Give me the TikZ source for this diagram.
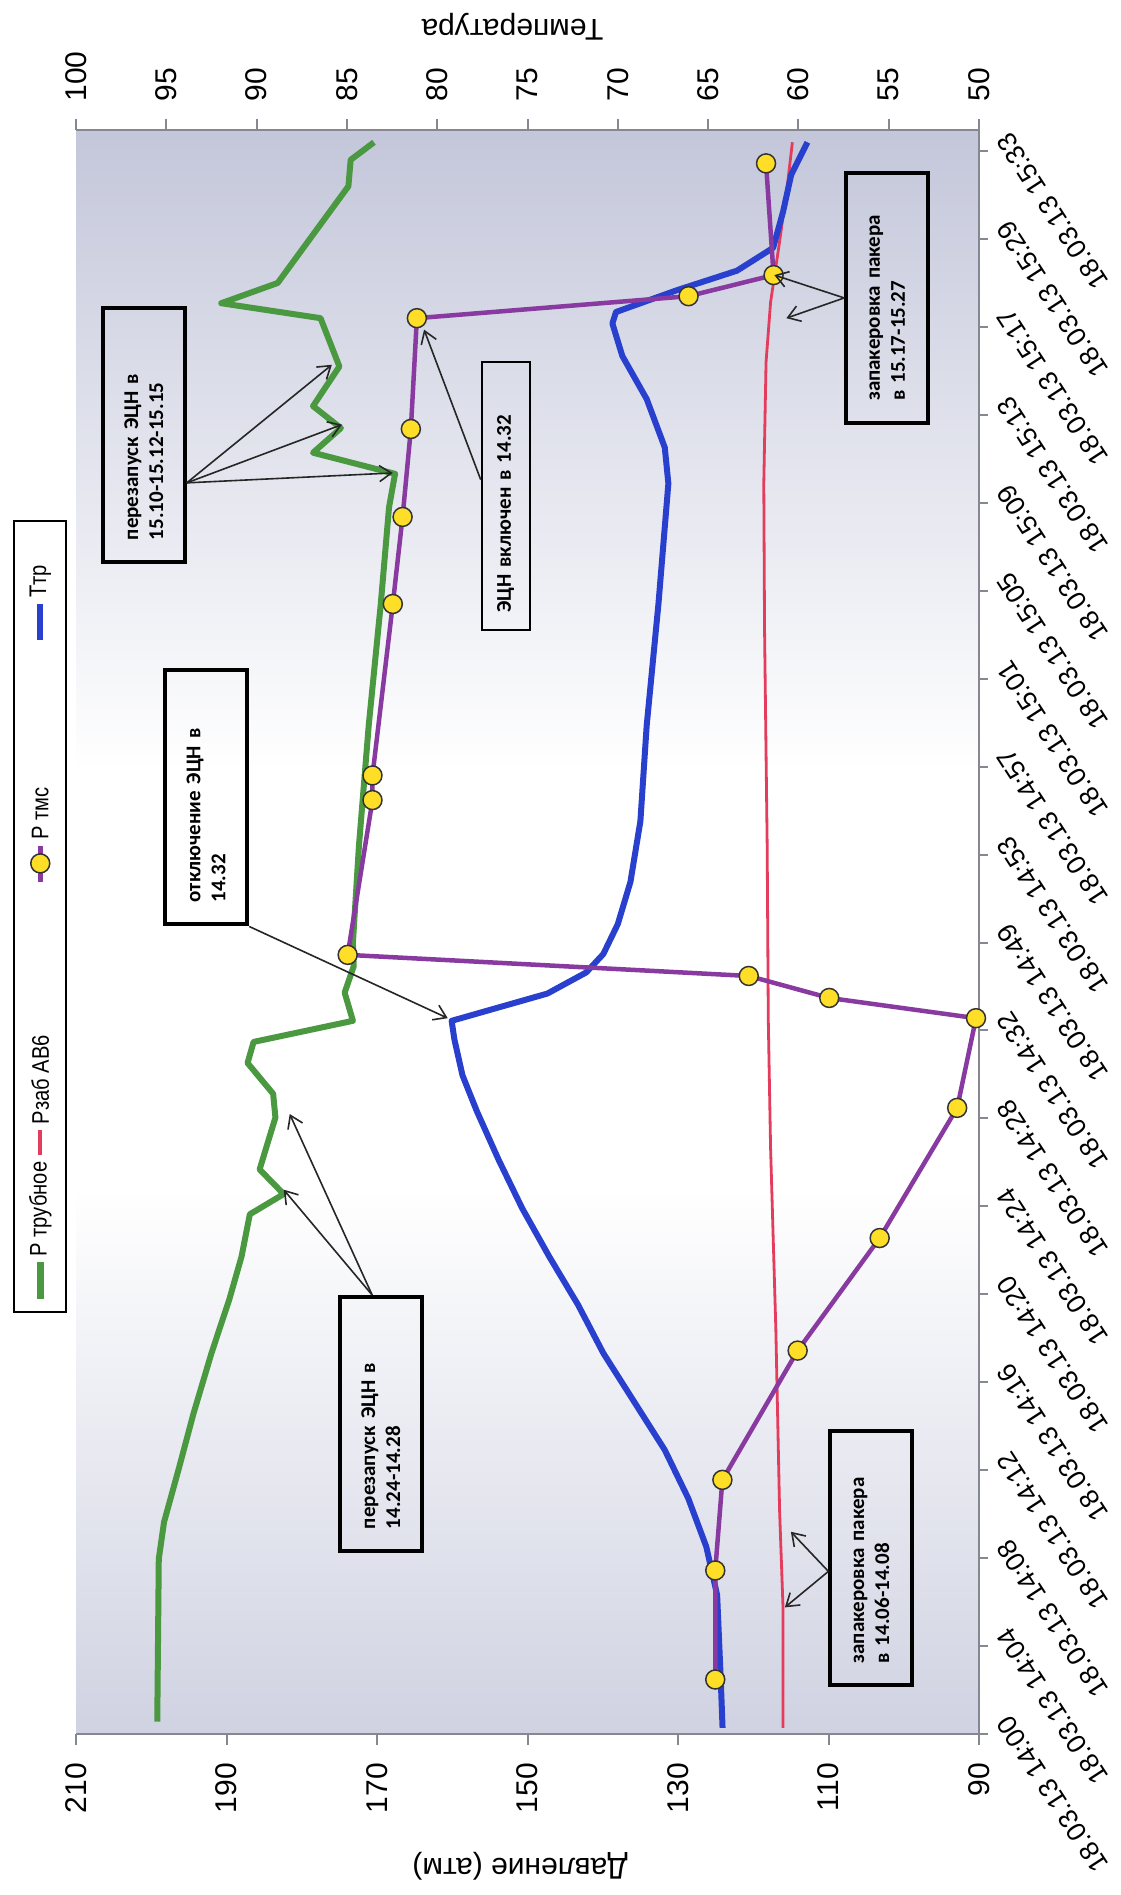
\documentclass[tikz,border=0pt]{standalone}
\usepackage{fontspec}
\setmainfont{Liberation Sans}
\newfontfamily\noteFont{Carlito}
\newfontfamily\legendFont[FakeStretch=0.84]{Liberation Sans}
\usepackage{xcolor}
\usetikzlibrary{arrows.meta, calc, positioning}
\definecolor{trubGreen}{RGB}{74,152,64}
\definecolor{zabRed}{RGB}{228,60,92}
\definecolor{tmsPurple}{RGB}{136,58,160}
\definecolor{ttrBlue}{RGB}{40,64,205}
\definecolor{markYellow}{RGB}{255,222,40}
\definecolor{plotGray}{RGB}{160,165,196}
\definecolor{axisGray}{RGB}{135,135,145}
\pgfdeclareverticalshading{plotShade}{100bp}{color(0bp)=(plotGray); color(15bp)=(plotGray!80!white); color(30bp)=(plotGray!35!white); color(42bp)=(white); color(55bp)=(white); color(68bp)=(plotGray!40!white); color(82bp)=(plotGray!85!white); color(100bp)=(plotGray)}
\tikzstyle{tickLabel} = [inner sep=0pt, font=\fontsize{30}{34}\selectfont]
\tikzstyle{timeLabel} = [inner sep=0pt, rotate=33, anchor=north east, font=\fontsize{27}{30}\selectfont]
\tikzstyle{noteBox} = [draw, line width=4pt, inner xsep=22pt, inner ysep=0pt, minimum height=82pt, text width=210pt, align=left, font=\noteFont\bfseries\fontsize{21}{25}\selectfont]
\tikzstyle{noteArrow} = [-{Straight Barb[length=12pt, width=16pt]}, line width=1.6pt, black!85]
\tikzstyle{legendText} = [anchor=west, inner sep=0pt, font=\legendFont\fontsize{24}{26}\selectfont]
\tikzstyle{tmsMark} = [circle, draw=black!80, line width=1.5pt, fill=markYellow, minimum size=19pt, inner sep=0pt]

\begin{document}
\begin{tikzpicture}[x=1pt, y=1pt]
    \useasboundingbox (0,-1895) rectangle (1121,0);
    \begin{scope}[shift={(979,-1734)}, rotate=90, transform shape, x=87.94pt, y=7.525pt, shift={(0,-90)}]
        % Plot area
        \shade [shading=plotShade] (0,90) rectangle (18.24,210);
        \draw [axisGray, line width=2pt] (0,210) -- (0,90) -- (18.24,90) -- (18.24,210);

        % Axes
        \foreach \p in {90,110,...,210} {
            \draw [axisGray, line width=2pt] (0,\p) -- (-0.12,\p);
            \node [tickLabel, anchor=east] (pl\p) at (-0.33,\p) {\p};
        }
        \foreach \tmp [count=\k from 0] in {50,55,...,100} {
            \draw [axisGray, line width=2pt] (18.24,90+2*\k*6) -- (18.36,90+2*\k*6);
            \node [tickLabel, anchor=west] (tl\tmp) at (18.56,90+2*\k*6) {\tmp};
        }
        \foreach \tm [count=\i from 0] in {14:00,14:04,14:08,14:12,14:16,14:20,14:24,14:28,14:32,14:49,14:53,14:57,15:01,15:05,15:09,15:13,15:17,15:29,15:33} {
            \draw [axisGray, line width=2pt] (\i,90) -- (\i,88.8);
            \node [timeLabel] (dl\i) at ([xshift=10pt, yshift=-16pt]\i,90) {18.03.13 \tm};
        }
        \node [tickLabel, rotate=90] (pTitle) at (-1.5,151) {Давление (атм)};
        \node [tickLabel, rotate=90] (tTitle) at (19.41,152) {Температура};

        % Legend
        \node [draw, fill=white, line width=2pt, minimum width=791pt, minimum height=52pt] (legend) at (9.3,214.75) {};
        \draw [trubGreen, line width=7pt] (4.95,214.75) -- (5.37,214.75);
        \node [legendText] (lgTrub) at (5.43,214.75) {Р трубное};
        \draw [zabRed, line width=4pt] (6.58,214.75) -- (6.87,214.75);
        \node [legendText] (lgZab) at (6.93,214.75) {Рзаб АВ6};
        \draw [tmsPurple, line width=5pt] (9.69,214.75) -- (10.1,214.75);
        \node [tmsMark] (lgMark) at (9.9,214.75) {};
        \node [legendText] (lgTms) at (10.17,214.75) {Р тмс};
        \draw [ttrBlue, line width=6pt] (12.44,214.75) -- (12.85,214.75);
        \node [legendText] (lgTtr) at (12.92,214.75) {Ттр};

        % Lines
        \draw [zabRed, line width=2.8pt, line join=round] plot coordinates {(0.07,116.05) (1.45,116.05) (2.54,116.5) (4.61,117.0) (6.67,117.7) (8.11,118.0) (10.1,118.15) (12.57,118.5) (14.22,118.6) (15.6,118.3) (16.28,117.7) (16.97,116.5) (17.66,115.4) (18.10,114.8)};
        \draw [trubGreen, line width=6pt, line join=round] plot coordinates {(0.14,199.2) (1.99,199) (2.41,198.3) (3.03,196.3) (3.64,194.4) (4.33,192.0) (4.95,189.6) (5.43,188.0) (5.91,186.9) (6.14,182.4) (6.42,185.6) (6.73,184.5) (7.01,183.5) (7.28,183.8) (7.63,187.2) (7.87,186.4) (8.11,173.2) (8.43,174.3) (8.73,173.1) (9.0,173.2) (10.1,172.4) (11.47,171.1) (12.85,169.5) (13.95,168.4) (14.33,167.6) (14.57,178.5) (14.85,174.8) (15.1,178.5) (15.55,175) (16.1,177.5) (16.27,190.7) (16.5,183.2) (17.6,173.8) (17.9,173.5) (18.1,170.4)};
        \begin{scope}[shift={(0,90)}, y=18.06pt, shift={(0,-50)}]
            \draw [ttrBlue, line width=6pt, line join=round] plot coordinates {(0.07,64.2) (0.62,64.3) (1.58,64.5) (2.13,65.1) (2.68,66.1) (3.23,67.4) (3.78,69.1) (4.33,70.8) (4.88,72.2) (5.43,73.8) (5.98,75.3) (6.53,76.6) (7.08,77.8) (7.49,78.6) (7.90,79.05) (8.11,79.2) (8.42,73.9) (8.66,71.75) (8.87,70.8) (9.21,70.0) (9.69,69.3) (10.38,68.75) (11.47,68.4) (12.85,67.75) (14.22,67.2) (14.63,67.4) (15.18,68.4) (15.67,69.75) (16.04,70.3) (16.17,70.1) (16.42,66.7) (16.64,63.4) (16.90,61.4) (17.31,60.85) (17.73,60.4) (18.10,59.5)};
        \end{scope}
        \draw [tmsPurple, line width=4.5pt, line join=round] plot coordinates {(0.62,125.05) (1.86,125.05) (2.89,124.1) (4.36,114.1) (5.64,103.2) (7.12,92.9) (8.14,90.4) (8.37,109.9) (8.62,120.6) (8.86,173.9) (10.62,170.6) (10.90,170.6) (12.85,167.9) (13.84,166.6) (14.84,165.5) (16.10,164.7) (16.35,128.6) (16.59,117.3) (17.86,118.3)};
        \foreach \t/\p [count=\m] in {0.62/125.05, 1.86/125.05, 2.89/124.1, 4.36/114.1, 5.64/103.2, 7.12/92.9, 8.14/90.4, 8.37/109.9, 8.62/120.6, 8.86/173.9, 10.62/170.6, 10.90/170.6, 12.85/167.9, 13.84/166.6, 14.84/165.5, 16.10/164.7, 16.35/128.6, 16.59/117.3, 17.86/118.3}
            \node [tmsMark] (m\m) at (\t,\p) {};

        % Notes
        \node [noteBox] (restartLate) at (14.77,201.0) {перезапуск ЭЦН в\\15.10-15.12-15.15};
        \node [noteBox] (stopEsp) at (10.65,192.7) {отключение ЭЦН в\\14.32};
        \node [noteBox] (restartEarly) at (3.525,169.5) {перезапуск ЭЦН в\\14.24-14.28};
        \node [noteBox, line width=2pt, text width=234pt, inner xsep=17pt, minimum height=48pt] (espOn) at (14.08,152.9) {ЭЦН включен в 14.32};
        \node [noteBox, text width=206pt] (packLate) at (16.33,102.2) {запакеровка пакера\\в 15.17-15.27};
        \node [noteBox] (packEarly) at (1.996,104.3) {запакеровка пакера\\в 14.06-14.08};

        \coordinate (gA1) at (15.57,176.0);
        \coordinate (gA2) at (14.89,174.65);
        \coordinate (gA3) at (14.34,167.9);
        \coordinate (bB) at (8.14,160.6);
        \coordinate (gC1) at (6.19,182.4);
        \coordinate (gC2) at (7.05,181.6);
        \coordinate (mD) at (15.97,163.75);
        \coordinate (rE1) at (16.10,115.6);
        \coordinate (rE2) at (16.59,117.2);
        \coordinate (rF1) at (1.44,115.8);
        \coordinate (rF2) at (2.30,115.0);

        \coordinate (oA) at ($(restartLate.south west)!0.315!(restartLate.south east)$);
        \coordinate (oC) at ($(restartEarly.north east)!0.4!(restartEarly.south east)$);
        \coordinate (oD) at ($(espOn.north west)!0.56!(espOn.north east)$);
        \coordinate (oF) at ($(packEarly.north west)!0.45!(packEarly.north east)$);

        % Arrows
        \foreach \g in {gA1,gA2,gA3}
            \draw [noteArrow] (oA) -- (\g);
        \draw [noteArrow] (stopEsp.south west) -- (bB);
        \draw [noteArrow] (oC) -- (gC1);
        \draw [noteArrow] (oC) -- (gC2);
        \draw [noteArrow] (oD) -- (mD);
        \draw [noteArrow] (packLate.north) -- (rE1);
        \draw [noteArrow] (packLate.north) -- (rE2);
        \draw [noteArrow] (oF) -- (rF1);
        \draw [noteArrow] (oF) -- (rF2);
    \end{scope}
\end{tikzpicture}
\end{document}
